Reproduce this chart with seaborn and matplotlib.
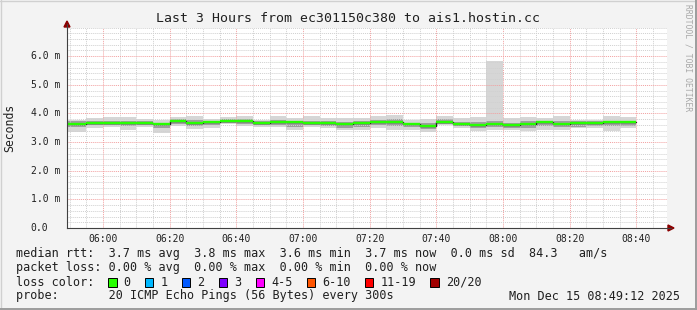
import numpy as np
import matplotlib
matplotlib.use("Agg")
import matplotlib.pyplot as plt
import matplotlib.ticker as mticker
from matplotlib.patches import Rectangle, Polygon
from matplotlib.lines import Line2D
import matplotlib.transforms as mtrans
import seaborn as sns

# ---------------- data ----------------
title = "Last 3 Hours from ec301150c380 to ais1.hostin.cc"
# step boundaries in minutes since midnight (05:49:12 .. 08:40, 5-minute RRD steps)
step_edges = [349.2] + list(range(355, 525, 5))
rtt_med = [3.62, 3.66, 3.67, 3.67, 3.68, 3.62, 3.74, 3.68, 3.69, 3.74,
           3.74, 3.67, 3.69, 3.71, 3.66, 3.65, 3.62, 3.67, 3.70, 3.71,
           3.62, 3.55, 3.71, 3.62, 3.60, 3.62, 3.58, 3.62, 3.69, 3.62,
           3.67, 3.67, 3.69, 3.69]
rtt_min = [3.35, 3.48, 3.53, 3.42, 3.53, 3.33, 3.55, 3.45, 3.50, 3.62,
           3.55, 3.53, 3.53, 3.43, 3.53, 3.48, 3.43, 3.42, 3.48, 3.42,
           3.42, 3.35, 3.58, 3.50, 3.37, 3.42, 3.42, 3.37, 3.42, 3.42,
           3.48, 3.48, 3.40, 3.48]
rtt_lo = [3.52, 3.58, 3.60, 3.55, 3.60, 3.50, 3.64, 3.57, 3.60, 3.66,
          3.64, 3.60, 3.60, 3.53, 3.60, 3.57, 3.50, 3.52, 3.58, 3.55,
          3.52, 3.45, 3.64, 3.55, 3.50, 3.52, 3.50, 3.50, 3.57, 3.53,
          3.52, 3.55, 3.55, 3.57]
rtt_hi = [3.72, 3.72, 3.75, 3.74, 3.74, 3.68, 3.82, 3.78, 3.74, 3.80,
          3.82, 3.72, 3.76, 3.73, 3.75, 3.72, 3.70, 3.72, 3.78, 3.80,
          3.68, 3.65, 3.80, 3.70, 3.70, 3.75, 3.68, 3.72, 3.75, 3.72,
          3.72, 3.72, 3.75, 3.75]
rtt_max = [3.78, 3.83, 3.86, 3.86, 3.80, 3.77, 3.88, 3.90, 3.80, 3.86,
           3.92, 3.78, 3.92, 3.83, 3.90, 3.83, 3.83, 3.83, 3.92, 3.94,
           3.77, 3.80, 3.90, 3.84, 3.88, 5.82, 3.83, 3.88, 3.83, 3.92,
           3.78, 3.78, 3.92, 3.88]
x_tick_min = [360, 380, 400, 420, 440, 460, 480, 500, 520]
x_tick_labels = ["06:00", "06:20", "06:40", "07:00", "07:20", "07:40", "08:00", "08:20", "08:40"]
y_tick_vals = [0, 1, 2, 3, 4, 5, 6]
y_tick_labels = ["0.0", "1.0 m", "2.0 m", "3.0 m", "4.0 m", "5.0 m", "6.0 m"]
legend_rows = [
    "median rtt:  3.7 ms avg  3.8 ms max  3.6 ms min  3.7 ms now  0.0 ms sd  84.3   am/s",
    "packet loss: 0.00 % avg  0.00 % max  0.00 % min  0.00 % now",
    "loss color:",
    "probe:       20 ICMP Echo Pings (56 Bytes) every 300s",
]
loss_labels = ["0", "1", "2", "3", "4-5", "6-10", "11-19", "20/20"]
loss_colors = ["#26ff00", "#00b8ff", "#0059ff", "#7e00ff", "#ff00ff", "#ff5500", "#ff0000", "#a10000"]
timestamp = "Mon Dec 15 08:49:12 2025"

# ---------------- style ----------------
sns.set_style("white")
plt.rcParams["font.family"] = ["DejaVu Sans Mono"]
W, H = 697, 310
BG = "#f3f3f3"

fig = plt.figure(figsize=(W / 100, H / 100), dpi=100, facecolor=BG)
L, R, T, B = 67, 667, 27.5, 228
ax = fig.add_axes([L / W, 1 - B / H, (R - L) / W, (B - T) / H])
ax.set_facecolor("white")

def ext(v):
    return list(v) + [v[-1]]

ax.fill_between(step_edges, ext(rtt_min), ext(rtt_max), step="post",
                color="#d6d6d6", lw=0, zorder=1)
ax.fill_between(step_edges, ext(rtt_lo), ext(rtt_hi), step="post",
                color="#9e9e9e", lw=0, zorder=1.2)
sns.lineplot(x=step_edges, y=ext(rtt_med), drawstyle="steps-post",
             color="#202020", lw=1.0, ax=ax, zorder=3)
ax.hlines(rtt_med, step_edges[:-1], step_edges[1:], color=loss_colors[0],
          lw=1.7, zorder=4)

ax.set_xlim(349.2, 529.2)
ax.set_ylim(0, 7.0)
ax.xaxis.set_major_locator(mticker.FixedLocator(x_tick_min))
ax.xaxis.set_minor_locator(mticker.MultipleLocator(5))
ax.set_xticklabels(x_tick_labels)
ax.yaxis.set_major_locator(mticker.FixedLocator(y_tick_vals))
ax.yaxis.set_minor_locator(mticker.MultipleLocator(0.2))
ax.set_yticklabels([])
ax.set_axisbelow(False)
ax.grid(which="minor", color="#d0d0d0", ls=(0, (1, 1)), lw=0.7, zorder=2.5)
ax.grid(which="major", color="#f2a0a0", ls=(0, (1, 1)), lw=0.7, zorder=2.6)
ax.tick_params(axis="x", which="major", length=0, pad=4, labelsize=7, colors="#202020")
ax.tick_params(axis="both", which="minor", length=0)
ax.tick_params(axis="y", which="major", length=0)
ax.set_xlabel("")
ax.set_ylabel("")
for s in ["top", "right"]:
    ax.spines[s].set_visible(False)
for s in ["left", "bottom"]:
    ax.spines[s].set_color("#404040")
    ax.spines[s].set_linewidth(0.8)
    ax.spines[s].set_zorder(5)

# y tick labels, left aligned as in rrdtool
trans = mtrans.blended_transform_factory(fig.transFigure, ax.transData)
for v, lab in zip(y_tick_vals, y_tick_labels):
    fig.text(30.7 / W, v, lab, transform=trans, ha="left", va="center",
             fontsize=7, color="#202020")

def fx(px):
    return px / W

def fy(py):
    return 1 - py / H

# axis extensions with arrows
fig.add_artist(Line2D([fx(L), fx(L)], [fy(T), fy(24)], color="#404040", lw=0.8))
fig.add_artist(Line2D([fx(R), fx(671)], [fy(B), fy(B)], color="#404040", lw=0.8))
fig.add_artist(Polygon([[fx(64), fy(27)], [fx(70), fy(27)], [fx(67), fy(21)]],
                       closed=True, color="#8b0000", transform=fig.transFigure))
fig.add_artist(Polygon([[fx(668), fy(225)], [fx(668), fy(231)], [fx(674), fy(228)]],
                       closed=True, color="#8b0000", transform=fig.transFigure))

# title, axis label, watermark
fig.text(0.5, fy(19), title, ha="center", va="center", fontsize=9.5, color="#202020")
fig.text(fx(10), fy(127.5), "Seconds", rotation=90, ha="center", va="center",
         fontsize=8.3, color="#202020")
fig.text(fx(688), fy(4), "RRDTOOL / TOBI OETIKER", rotation=270, ha="center", va="top",
         fontsize=5.8, color="#a8a8a8")

# legend
row_y = [254, 268, 282, 296]
for txt, yy in zip(legend_rows, row_y):
    fig.text(fx(16), fy(yy), txt, ha="left", va="center", fontsize=8.5, color="#202020")
fig.text(fx(680), fy(296), timestamp, ha="right", va="center", fontsize=8.5, color="#202020")
cw = 8.5 * 100 / 72 * 0.602
x = 108.0
for lab, col in zip(loss_labels, loss_colors):
    fig.add_artist(Rectangle((fx(x), fy(286.5)), 8.5 / W, 8.5 / H, transform=fig.transFigure,
                             facecolor=col, edgecolor="black", lw=0.7))
    fig.text(fx(x + 15.6), fy(282), lab, ha="left", va="center", fontsize=8.5, color="#202020")
    x += 15.6 + len(lab) * cw + 14.2

# frame of the image
fig.add_artist(Line2D([0, 1], [fy(0.5), fy(0.5)], color="#d0d0d0", lw=1.0))
fig.add_artist(Line2D([fx(0.5), fx(0.5)], [0, 1], color="#d0d0d0", lw=1.0))
fig.add_artist(Line2D([fx(696), fx(696)], [0, 1], color="#9c9c9c", lw=1.4))
fig.add_artist(Line2D([0, 1], [fy(309), fy(309)], color="#9c9c9c", lw=1.4))

fig.savefig("out.png", dpi=100, facecolor=BG)
